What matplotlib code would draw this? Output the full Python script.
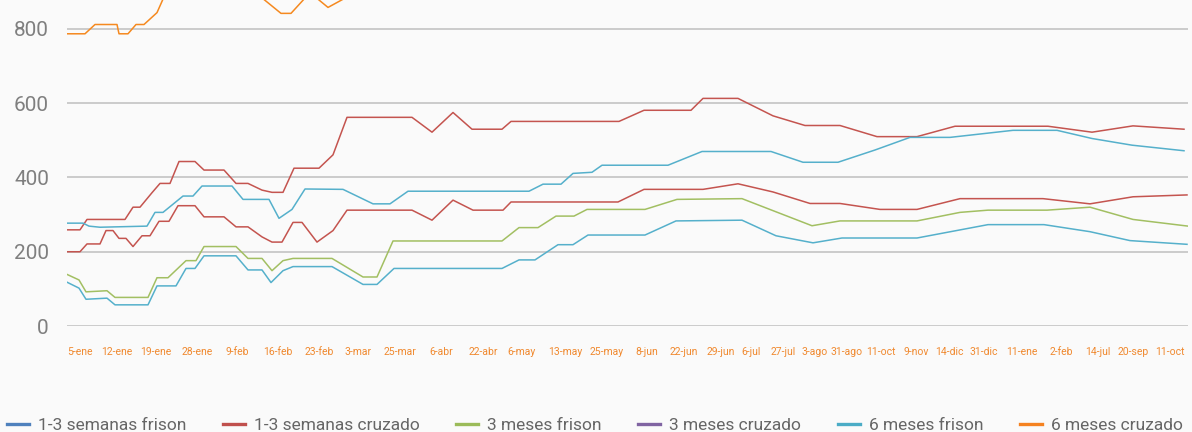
import matplotlib
matplotlib.use("Agg")
import matplotlib.pyplot as plt
from matplotlib.lines import Line2D

plt.rcParams['font.family'] = ['Roboto', 'DejaVu Sans']

# x axis: position along the category axis (one unit = one tenth of a label gap, approx.)
tick_pos = [1.3, 5.0, 8.9, 13.05, 17.0, 21.1, 25.2, 29.1, 33.3, 37.4, 41.6, 45.5,
            49.8, 54.0, 58.0, 61.7, 65.4, 68.4, 71.6, 74.8, 78.0, 81.4, 84.9,
            88.2, 91.7, 95.5, 99.4, 103.1, 106.6, 110.3]
tick_labels = ["5-ene", "12-ene", "19-ene", "28-ene", "9-feb", "16-feb", "23-feb",
               "3-mar", "25-mar", "6-abr", "22-abr", "6-may", "13-may", "25-may",
               "8-jun", "22-jun", "29-jun", "6-jul", "27-jul", "3-ago", "31-ago",
               "11-oct", "9-nov", "14-dic", "31-dic", "11-ene", "2-feb", "14-jul",
               "20-sep", "11-oct"]

series_names = ["1-3 semanas frison", "1-3 semanas cruzado", "3 meses frison",
                "3 meses cruzado", "6 meses frison", "6 meses cruzado"]
legend_colors = ["#4f81bd", "#c0504d", "#9bbb59", "#8064a2", "#4bacc6", "#f58220"]

# teal, lowest line
x_cian_bajo = [0, 1.2, 1.9, 4.0, 4.8, 8.1, 9.0, 10.9, 11.9, 12.8, 13.7, 16.9, 18.1,
               19.5, 20.4, 21.6, 22.6, 26.5, 29.6, 31.0, 32.7, 43.5, 45.2, 46.8,
               49.1, 50.6, 52.1, 57.8, 60.9, 67.5, 70.9, 74.6, 77.5, 85.0, 92.1,
               97.7, 102.3, 106.3, 112.0]
y_cian_bajo = [118, 102, 72, 75, 57, 57, 108, 108, 155, 155, 189, 189, 151, 151, 117,
               149, 160, 160, 112, 112, 155, 155, 178, 178, 219, 219, 245, 245, 283,
               285, 243, 224, 237, 237, 273, 273, 254, 230, 220]

# red, lower line
x_rojo_bajo = [0, 1.3, 2.0, 3.3, 3.9, 4.6, 5.2, 5.9, 6.6, 7.5, 8.3, 9.2, 10.2, 11.1,
               12.8, 13.7, 15.7, 16.9, 18.1, 19.5, 20.5, 21.5, 22.6, 23.5, 25.0,
               26.6, 28.0, 34.5, 36.5, 38.6, 40.6, 43.6, 44.4, 55.1, 57.7, 63.6,
               67.1, 70.6, 74.3, 77.3, 81.3, 85.0, 89.3, 97.6, 102.3, 106.6, 112.0]
y_rojo_bajo = [200, 200, 221, 221, 257, 257, 236, 236, 214, 243, 243, 282, 282, 324,
               324, 294, 294, 267, 267, 240, 226, 226, 279, 279, 226, 257, 312, 312,
               285, 339, 312, 312, 334, 334, 368, 368, 383, 361, 330, 330, 314, 314,
               343, 343, 329, 348, 353]

# green
x_verde = [0, 1.2, 1.9, 4.0, 4.8, 8.1, 9.0, 10.1, 11.9, 12.9, 13.7, 16.9, 18.1, 19.5,
           20.5, 21.6, 22.6, 26.5, 29.6, 31.0, 32.6, 43.5, 45.2, 47.1, 48.9, 50.7,
           52.0, 57.8, 61.0, 67.5, 74.5, 77.3, 85.0, 89.3, 92.1, 98.0, 102.3, 106.6,
           112.1]
y_verde = [139, 124, 92, 95, 77, 77, 130, 130, 176, 176, 214, 214, 182, 182, 149, 176,
           182, 182, 132, 132, 229, 229, 265, 265, 296, 296, 314, 314, 341, 343, 270,
           283, 283, 306, 312, 312, 320, 287, 269]

# red, upper line
x_rojo_alto = [0, 1.3, 2.0, 5.8, 6.6, 7.3, 8.5, 9.3, 10.3, 11.2, 12.8, 13.7, 15.7,
               16.9, 18.1, 19.5, 20.5, 21.6, 22.7, 25.2, 26.6, 28.0, 34.5, 36.5,
               38.6, 40.5, 43.5, 44.4, 55.2, 57.7, 62.4, 63.6, 67.1, 70.6, 73.8,
               77.3, 81.0, 85.0, 88.8, 98.1, 102.5, 106.6, 111.7]
y_rojo_alto = [259, 259, 287, 287, 320, 320, 359, 384, 384, 443, 443, 420, 420, 384,
               384, 366, 360, 360, 425, 425, 461, 562, 562, 522, 575, 530, 530, 551,
               551, 581, 581, 613, 613, 566, 540, 540, 510, 510, 538, 538, 522, 539,
               530]

# teal, upper line
x_cian_alto = [0, 1.6, 2.2, 3.3, 8.0, 8.8, 9.6, 11.6, 12.6, 13.5, 16.5, 17.6, 20.2,
               21.2, 22.5, 23.8, 27.6, 30.6, 32.3, 34.1, 46.2, 47.6, 49.4, 50.6,
               52.5, 53.5, 60.1, 63.5, 70.4, 73.6, 77.1, 80.8, 84.3, 88.3, 94.6,
               99.0, 102.5, 106.5, 111.7]
y_cian_alto = [277, 277, 269, 266, 269, 306, 306, 350, 350, 377, 377, 341, 341, 290,
               314, 369, 368, 329, 329, 363, 363, 382, 382, 411, 414, 433, 433, 470,
               470, 441, 441, 474, 508, 508, 527, 527, 505, 487, 472]

# orange (mostly above the visible range)
x_naranja = [0, 1.8, 2.8, 5.0, 5.2, 6.1, 6.9, 7.7, 9.0, 10.5, 14.8, 18.3, 21.4, 22.4,
             24.3, 26.1, 29.3, 35.3, 45.3, 58.3, 69.3, 83.3, 98.3, 112.0]
y_naranja = [787, 787, 812, 812, 787, 787, 812, 812, 844, 935, 960, 910, 842, 842,
             898, 858, 905, 940, 960, 990, 1010, 990, 1000, 980]

W, H = 1192, 432
fig = plt.figure(figsize=(W / 100, H / 100), dpi=100)
fig.patch.set_facecolor("#fafafa")
ax = fig.add_axes([67 / W, (H - 326) / H, (1188 - 67) / W, 326 / H])
ax.set_facecolor("#fafafa")

lw = 1.1
ax.plot(x_cian_bajo, y_cian_bajo, color="#55b0cb", lw=lw)
ax.plot(x_rojo_bajo, y_rojo_bajo, color="#c4544f", lw=lw)
ax.plot(x_verde, y_verde, color="#a2bf62", lw=lw)
ax.plot(x_rojo_alto, y_rojo_alto, color="#c4544f", lw=lw)
ax.plot(x_cian_alto, y_cian_alto, color="#55b0cb", lw=lw)
ax.plot(x_naranja, y_naranja, color="#f5891f", lw=lw)

ax.set_xlim(0, 112.1)
ax.set_ylim(0, 878)
ax.set_yticks([0, 200, 400, 600, 800])
ax.yaxis.grid(True, color="#c3c3c3", lw=1.2)
ax.set_axisbelow(True)
for s in ax.spines.values():
    s.set_visible(False)

ax.set_xticks(tick_pos, tick_labels)
ax.tick_params(axis="x", length=0, pad=15, labelsize=7.5, labelcolor="#f0892f")
ax.tick_params(axis="y", length=0, pad=13, labelsize=15, labelcolor="#7f7f7f")

handles = [Line2D([], [], color=c, lw=2.4) for c in legend_colors]
fig.legend(handles, series_names, loc="center left", bbox_to_anchor=(7 / W, 7 / H),
           ncol=6, frameon=False, fontsize=12.5, labelcolor="#666666",
           handlelength=1.27, handletextpad=0.52, columnspacing=2.1,
           borderpad=0, borderaxespad=0)

fig.savefig("out.png", dpi=100, facecolor=fig.get_facecolor())
